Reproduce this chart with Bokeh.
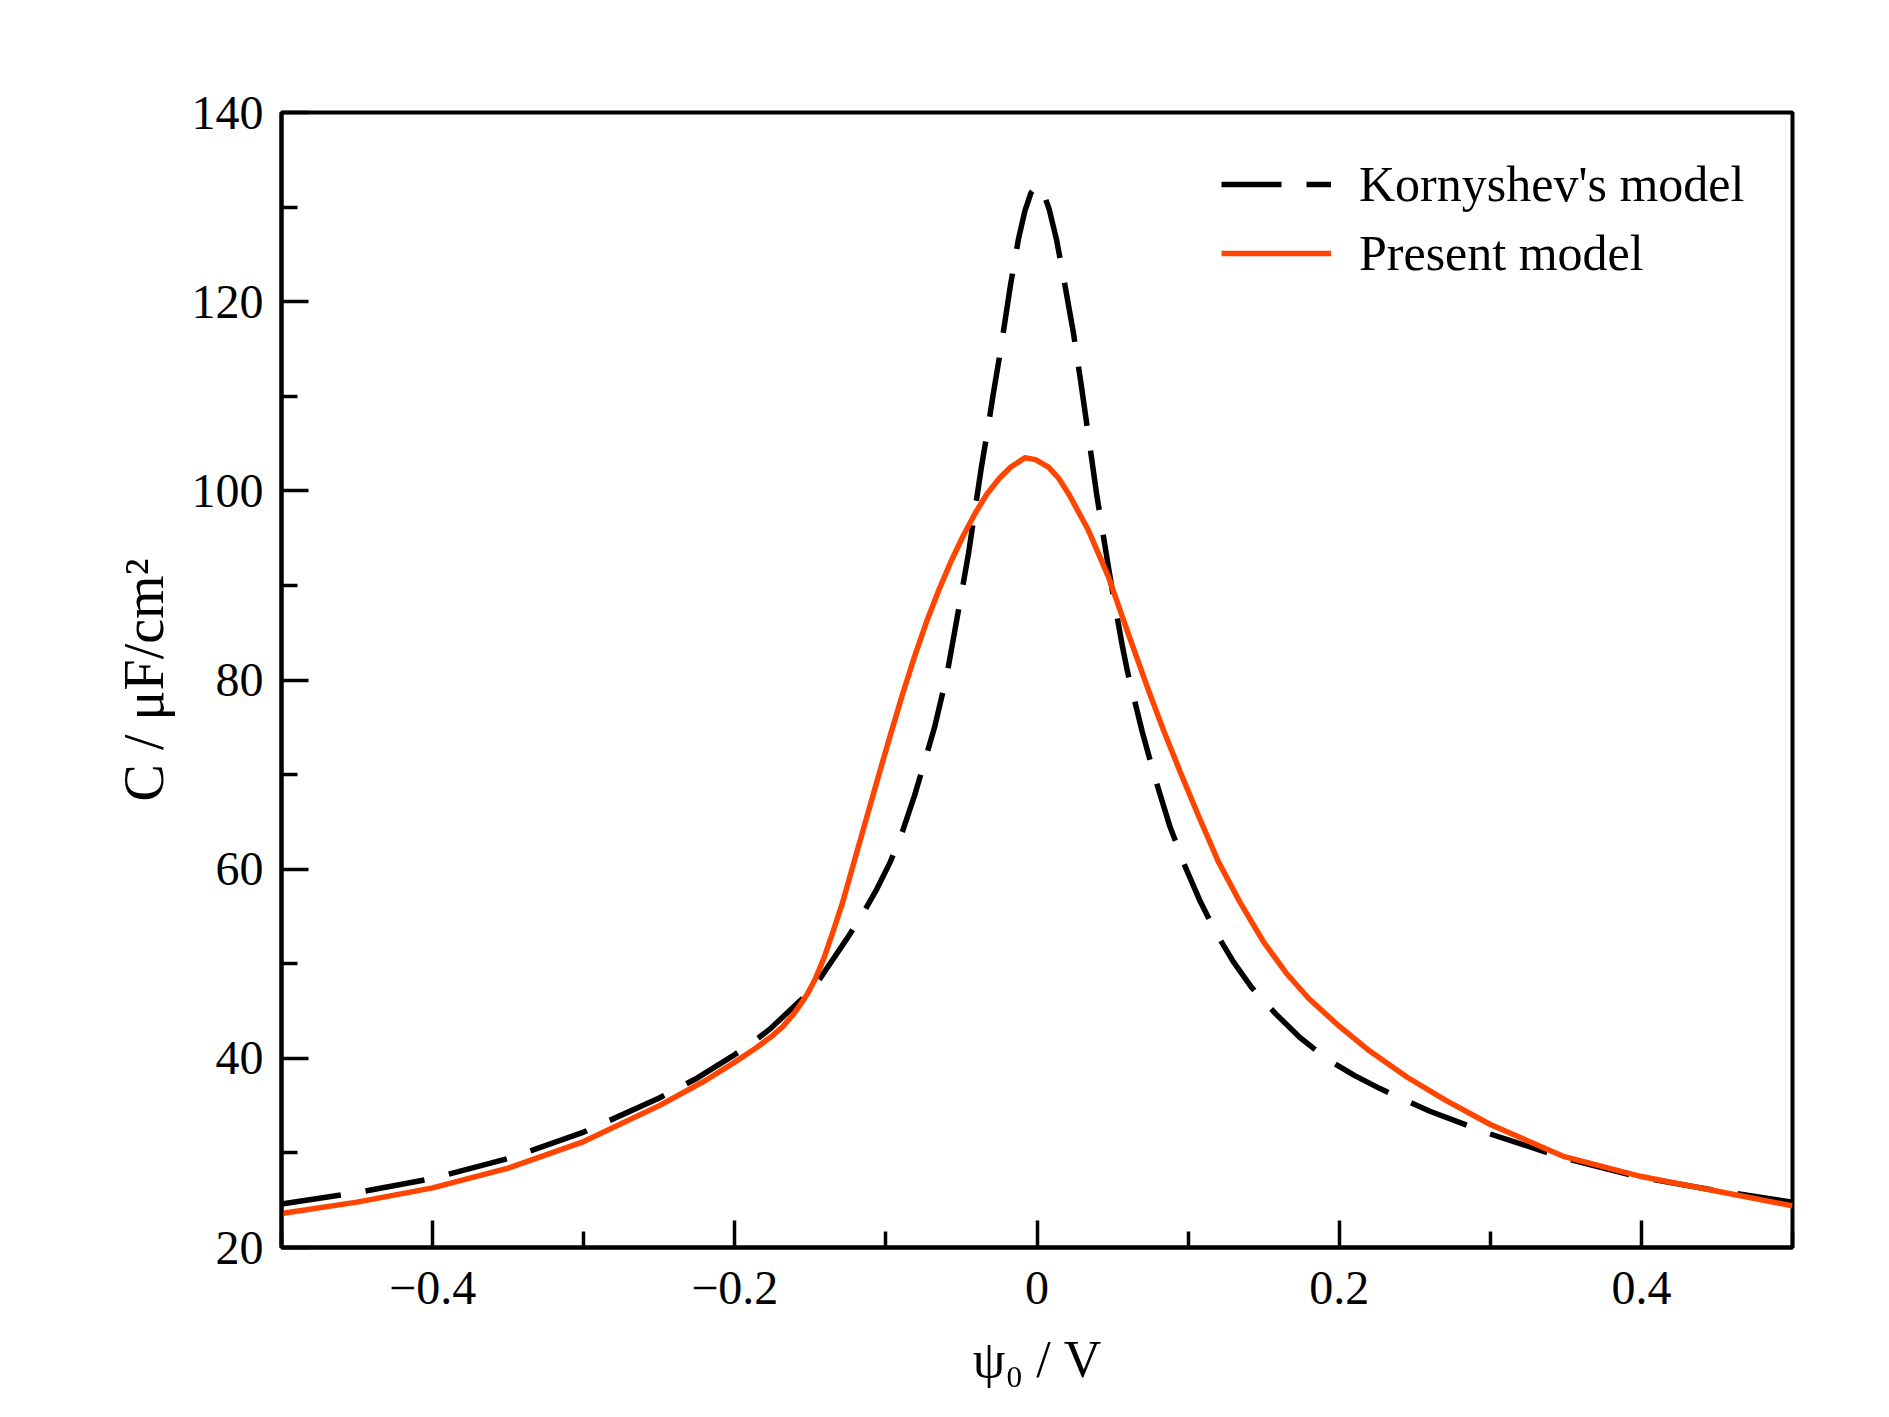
from bokeh.plotting import figure
from bokeh.models import FixedTicker, CustomJSTickFormatter, Legend, LegendItem
from bokeh.embed import file_html
from bokeh.resources import INLINE

# Kornyshev's model (dashed black)
psi_k = [-0.5, -0.45, -0.4, -0.35, -0.3, -0.25, -0.225, -0.2, -0.188, -0.176, -0.16,
         -0.148, -0.137, -0.126, -0.116, -0.106, -0.097, -0.089, -0.081, -0.0745,
         -0.0678, -0.0597, -0.0553, -0.0487, -0.0453, -0.0398, -0.0367, -0.033,
         -0.029, -0.025, -0.0215, -0.0175, -0.0123, -0.008, -0.004, 0.0, 0.004,
         0.008, 0.013, 0.018, 0.024, 0.029, 0.033, 0.0374, 0.0396, 0.0469, 0.0495,
         0.0566, 0.060, 0.0697, 0.078, 0.088, 0.098, 0.108, 0.118, 0.13, 0.142,
         0.158, 0.174, 0.193, 0.21, 0.227, 0.26, 0.3, 0.35, 0.4, 0.45, 0.5]
C_k = [24.6, 25.8, 27.3, 29.4, 32.2, 35.8, 37.9, 40.4, 41.7, 43.2, 45.6,
       47.4, 50.0, 52.6, 55.1, 57.9, 60.8, 64.0, 67.8, 71.3,
       75.0, 80.5, 84.4, 90.3, 93.4, 99.3, 102.6, 106.1,
       110.2, 114.0, 117.6, 121.8, 126.6, 129.6, 131.5, 132.3, 131.6,
       129.8, 126.5, 122.2, 116.8, 111.5, 107.0, 102.0, 99.5, 92.3, 89.8,
       83.5, 80.8, 74.5, 69.7, 64.5, 60.3, 56.6, 53.4, 50.2, 47.5,
       44.7, 42.2, 39.8, 38.2, 36.8, 34.4, 32.0, 29.4, 27.4, 26.0, 24.8]

# Present model (solid orange)
psi_p = [-0.5, -0.45, -0.4, -0.35, -0.3, -0.25, -0.22, -0.2, -0.186, -0.175, -0.168,
         -0.162, -0.157, -0.152, -0.147, -0.141, -0.135, -0.129, -0.121, -0.113,
         -0.105, -0.097, -0.089, -0.081, -0.073, -0.065, -0.057, -0.049,
         -0.041, -0.033, -0.025, -0.0175, -0.008,
         -0.001, 0.0076, 0.014, 0.0209, 0.0341, 0.0473, 0.0606, 0.0738, 0.0837,
         0.095, 0.107, 0.12, 0.134, 0.15, 0.165, 0.18, 0.2, 0.22, 0.245, 0.27,
         0.3, 0.349, 0.4, 0.452, 0.5]
C_p = [23.6, 24.8, 26.3, 28.4, 31.2, 35.0, 37.6, 39.6, 41.1, 42.4, 43.4,
       44.5, 45.6, 46.8, 48.3, 50.6, 53.4, 56.3, 60.8, 65.3,
       69.8, 74.2, 78.5, 82.5, 86.2, 89.5, 92.5, 95.2,
       97.6, 99.7, 101.3, 102.5, 103.5,
       103.3, 102.5, 101.4, 99.7, 95.8, 90.9, 84.8, 78.9, 74.7,
       70.2, 65.6, 60.8, 56.6, 52.3, 49.0, 46.3, 43.4, 40.8, 38.0, 35.6,
       33.0, 29.6, 27.5, 25.9, 24.4]

x_major = [-0.4, -0.2, 0.0, 0.2, 0.4]
x_minor = [-0.5, -0.3, -0.1, 0.1, 0.3, 0.5]
y_major = [20, 40, 60, 80, 100, 120, 140]
y_minor = [30, 50, 70, 90, 110, 130]

series_names = ["Kornyshev's model", "Present model"]
x_label = "\u03c8\u2080 / V"
y_label = "C / \u03bcF/cm\u00b2"

FONT = "Liberation Serif"

p = figure(width=1870, height=1400, x_range=(-0.5, 0.5), y_range=(20, 140),
           output_backend="svg", toolbar_location=None,
           min_border_left=281, min_border_right=78,
           min_border_top=112, min_border_bottom=153)
p.grid.visible = False
p.background_fill_color = "white"
p.border_fill_color = "white"
p.outline_line_color = "black"
p.outline_line_width = 4

r1 = p.line(psi_k, C_k, line_color="black", line_width=5.5, line_dash="60 25")
r2 = p.line(psi_p, C_p, line_color="#FF4500", line_width=5.5, line_join="round")

for ax in (p.xaxis[0], p.yaxis[0]):
    ax.axis_line_width = 4
    ax.axis_line_color = "black"
    ax.major_tick_in = 27
    ax.major_tick_out = 0
    ax.minor_tick_in = 16
    ax.minor_tick_out = 0
    ax.major_tick_line_width = 3.5
    ax.minor_tick_line_width = 3.5
    ax.major_label_text_font = FONT
    ax.major_label_text_font_size = "48px"
    ax.major_label_text_color = "black"
    ax.axis_label_text_font = FONT
    ax.axis_label_text_font_style = "normal"
    ax.axis_label_text_color = "black"

p.xaxis.axis_label_text_font_size = "52px"
p.yaxis.axis_label_text_font_size = "56px"

p.xaxis.ticker = FixedTicker(ticks=x_major, minor_ticks=x_minor)
p.yaxis.ticker = FixedTicker(ticks=y_major, minor_ticks=y_minor)
p.xaxis.formatter = CustomJSTickFormatter(code="""
if (Math.abs(tick) < 1e-9) { return "0"; }
var s = Math.abs(tick).toFixed(1);
return (tick < 0 ? "\\u2212" : "") + s;
""")
p.xaxis.major_label_standoff = 24
p.yaxis.major_label_standoff = 18
p.xaxis.axis_label = x_label
p.yaxis.axis_label = y_label
p.xaxis.axis_label_standoff = 24
p.yaxis.axis_label_standoff = 14

legend = Legend(items=[LegendItem(label=series_names[0], renderers=[r1]),
                       LegendItem(label=series_names[1], renderers=[r2])],
                location=(940, 964))
legend.glyph_width = 110
legend.glyph_height = 60
legend.label_height = 60
legend.spacing = 9
legend.padding = 0
legend.margin = 0
legend.label_standoff = 28
legend.label_text_font = FONT
legend.label_text_font_size = "50px"
legend.label_text_color = "black"
legend.border_line_color = None
legend.background_fill_alpha = 0
p.add_layout(legend)

open("out.html", "w").write(file_html(p, INLINE))
